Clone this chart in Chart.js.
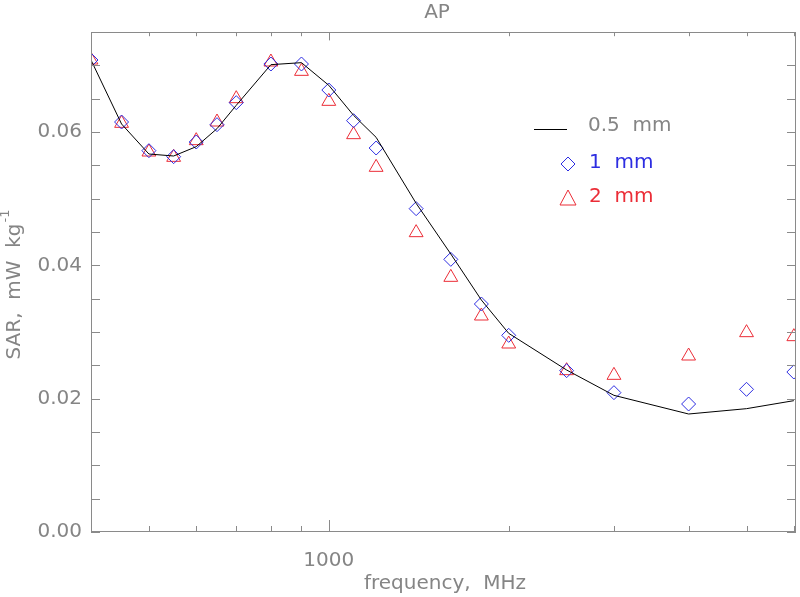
<!DOCTYPE html>
<html>
<head>
<meta charset="utf-8">
<script src="https://cdn.jsdelivr.net/npm/chart.js@4/dist/chart.umd.min.js"></script>
<style>
  html, body { margin: 0; padding: 0; background: #fff; overflow: hidden; }
  canvas { display: block; }
</style>
</head>
<body>
<canvas id="chart" width="800" height="597"></canvas>
<script>
// frequency in MHz
const freqs = [400, 450, 500, 550, 600, 650, 700, 800, 900, 1000, 1100, 1200, 1400, 1600, 1800, 2000, 2500, 3000, 4000, 5000, 6000];

// SAR, mW/kg, for each layer thickness
const sar05 = [0.0708, 0.0612, 0.0567, 0.0564, 0.0578, 0.0605, 0.0640, 0.0701, 0.0704, 0.0670, 0.0625, 0.0592,
               0.0493, 0.0417, 0.0348, 0.0298, 0.0243, 0.0205, 0.0177, 0.0185, 0.0197];
const sar1 = [0.0708, 0.0615, 0.0572, 0.0563, 0.0585, 0.0611, 0.0644, 0.0702, 0.0702, 0.0663, 0.0617, 0.0576,
              0.0485, 0.0409, 0.0342, 0.0295, 0.0242, 0.0209, 0.0192, 0.0214, 0.0240];
const sar2 = [0.0708, 0.0613, 0.0570, 0.0562, 0.0587, 0.0615, 0.0650, 0.0705, 0.0691, 0.0646, 0.0596, 0.0547,
              0.0449, 0.0382, 0.0324, 0.0282, 0.0242, 0.0235, 0.0264, 0.0299, 0.0293];

const xTicks = [500, 600, 700, 800, 900, 1000, 2000, 3000, 4000, 5000, 6000];
const xLabels = [1000];
const yLabels = [0, 0.02, 0.04, 0.06];

const axisColor = '#8a8a8a';
const textColor = '#858585';
const blue = 'rgb(45, 45, 225)';
const red = 'rgb(235, 45, 55)';
const fontFamily = '"DejaVu Sans", sans-serif';

function pts(ys) {
    return freqs.map((f, i) => ({ x: f, y: ys[i] }));
}

const frameAndTicks = {
    id: 'frameAndTicks',
    afterDatasetsDraw(chart) {
        const { ctx, chartArea: a, scales } = chart;
        ctx.save();
        ctx.strokeStyle = axisColor;
        ctx.lineWidth = 1;
        ctx.strokeRect(a.left + 0.5, a.top + 0.5, a.right - a.left - 1, a.bottom - a.top - 1);
        ctx.beginPath();
        scales.x.ticks.forEach(t => {
            const px = Math.round(scales.x.getPixelForValue(t.value)) + 0.5;
            const len = xLabels.includes(t.value) ? 12 : 6;
            ctx.moveTo(px, a.bottom);
            ctx.lineTo(px, a.bottom - len);
            ctx.moveTo(px, a.top);
            ctx.lineTo(px, a.top + len * 0.7);
        });
        scales.y.ticks.forEach(t => {
            const py = Math.round(scales.y.getPixelForValue(t.value)) + 0.5;
            ctx.moveTo(a.left, py);
            ctx.lineTo(a.left + 9, py);
            ctx.moveTo(a.right, py);
            ctx.lineTo(a.right - 9, py);
        });
        ctx.stroke();
        ctx.restore();
    },
    afterDraw(chart) {
        const { ctx } = chart;
        ctx.save();
        ctx.fillStyle = textColor;
        ctx.textAlign = 'center';
        ctx.textBaseline = 'middle';
        ctx.font = '20px ' + fontFamily;
        ctx.fillText('AP', 437, 13);
        ctx.fillText('frequency,  MHz', 445, 584);

        // y title with superscript
        ctx.translate(15, 285);
        ctx.rotate(-Math.PI / 2);
        const main = 'SAR,  mW  kg';
        ctx.font = '20px ' + fontFamily;
        const w1 = ctx.measureText(main).width;
        ctx.font = '13px ' + fontFamily;
        const w2 = ctx.measureText('-1').width;
        const start = -(w1 + w2) / 2;
        ctx.textAlign = 'left';
        ctx.font = '20px ' + fontFamily;
        ctx.fillText(main, start, 0);
        ctx.font = '13px ' + fontFamily;
        ctx.fillText('-1', start + w1 + 1, -9);
        ctx.restore();

        // legend
        ctx.save();
        ctx.font = '20px ' + fontFamily;
        ctx.textBaseline = 'middle';
        ctx.textAlign = 'left';
        ctx.strokeStyle = '#000';
        ctx.lineWidth = 1;
        ctx.beginPath();
        ctx.moveTo(534, 129.5);
        ctx.lineTo(567, 129.5);
        ctx.stroke();
        ctx.fillStyle = textColor;
        ctx.fillText('0.5  mm', 588, 126);

        ctx.strokeStyle = blue;
        ctx.beginPath();
        ctx.moveTo(568, 157); ctx.lineTo(575, 164); ctx.lineTo(568, 171); ctx.lineTo(561, 164); ctx.closePath();
        ctx.stroke();
        ctx.fillStyle = blue;
        ctx.fillText('1  mm', 589, 163);

        ctx.strokeStyle = red;
        ctx.beginPath();
        ctx.moveTo(568, 190); ctx.lineTo(576, 205); ctx.lineTo(560, 205); ctx.closePath();
        ctx.stroke();
        ctx.fillStyle = red;
        ctx.fillText('2  mm', 589, 197);
        ctx.restore();
    }
};

new Chart(document.getElementById('chart'), {
    type: 'scatter',
    data: {
        datasets: [
            {
                label: '0.5 mm',
                data: pts(sar05),
                showLine: true,
                borderColor: '#000',
                borderWidth: 1,
                pointRadius: 0,
                tension: 0,
                order: 0
            },
            {
                label: '1 mm',
                data: pts(sar1),
                pointStyle: 'rectRot',
                pointRadius: 7,
                borderColor: blue,
                backgroundColor: 'rgba(0,0,0,0)',
                borderWidth: 1,
                order: 1
            },
            {
                label: '2 mm',
                data: pts(sar2),
                pointStyle: 'triangle',
                pointRadius: 8,
                borderColor: red,
                backgroundColor: 'rgba(0,0,0,0)',
                borderWidth: 1,
                order: 2
            }
        ]
    },
    options: {
        responsive: false,
        animation: false,
        layout: { autoPadding: false, padding: { top: 32, right: 4, left: 0, bottom: 0 } },
        plugins: {
            legend: { display: false },
            tooltip: { enabled: false }
        },
        scales: {
            x: {
                type: 'logarithmic',
                min: 400,
                max: 6050,
                grid: { display: false, drawTicks: false },
                border: { display: false },
                afterBuildTicks: scale => {
                    scale.ticks = xTicks.map(v => ({ value: v }));
                },
                afterFit: scale => {
                    scale.height = 65;
                    scale.paddingLeft = 0;
                    scale.paddingRight = 0;
                },
                ticks: {
                    autoSkip: false,
                    maxRotation: 0,
                    padding: 17,
                    color: textColor,
                    font: { family: fontFamily, size: 20 },
                    callback: v => xLabels.includes(v) ? String(v) : ''
                }
            },
            y: {
                min: 0,
                max: 0.075,
                grid: { display: false, drawTicks: false },
                border: { display: false },
                afterFit: scale => { scale.width = 91; },
                ticks: {
                    stepSize: 0.005,
                    autoSkip: false,
                    padding: 9,
                    color: textColor,
                    font: { family: fontFamily, size: 20 },
                    callback: v => {
                        const hit = yLabels.find(l => Math.abs(l - v) < 1e-9);
                        return hit !== undefined ? hit.toFixed(2) : '';
                    }
                }
            }
        }
    },
    plugins: [frameAndTicks]
});
</script>
</body>
</html>
